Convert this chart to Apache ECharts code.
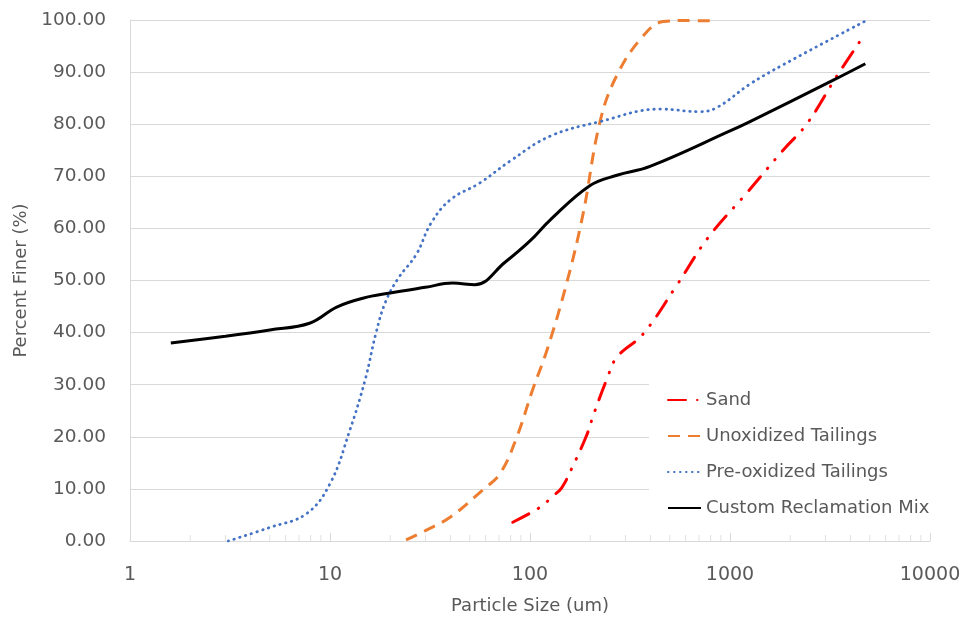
<!DOCTYPE html>
<html>
<head>
<meta charset="utf-8">
<script src="https://cdn.jsdelivr.net/npm/echarts@6/dist/echarts.min.js"></script>
<style>html,body{margin:0;padding:0;background:#fff}#c{width:964px;height:620px}</style>
</head>
<body>
<div id="c"></div>
<script>
// ---- data (particle size in um, percent finer) ----
const sandSize = [82, 103, 116, 130, 144, 162, 192, 209, 242, 272, 367, 540, 776, 1213, 1842, 2427, 3442, 4750];
const sandFiner = [3.6, 5.6, 6.9, 8.6, 10.2, 14, 20.3, 24.5, 31, 35.3, 39.7, 49, 58.2, 66.8, 75, 80.1, 89.4, 97.4];

const unoxSize = [24, 30, 40, 58, 71, 86, 103, 122, 153, 184, 224, 272, 367, 464, 600, 860];
const unoxFiner = [0.2, 2, 4.6, 9.8, 13, 20, 29, 36.8, 49.7, 62.7, 80.5, 89.4, 96.9, 99.7, 99.9, 99.8];

const preoxSize = [3.1, 5, 7.6, 10, 12.5, 15, 17, 19, 22, 27, 32, 40, 56, 80, 126, 224, 447, 708, 860, 1259, 1842, 4750];
const preoxFiner = [0, 2.6, 5.2, 11, 21, 31, 40, 46, 50.5, 55, 61, 65.5, 68.7, 73, 77.7, 80.5, 82.9, 82.4, 83.2, 87.7, 91.4, 99.8];

const mixSize = [1.6, 3, 5, 7.9, 10.8, 14.6, 20, 30, 41, 53, 75, 100, 126, 199, 272, 398, 1000, 1259, 3265, 4750];
const mixFiner = [38, 39.3, 40.5, 41.8, 44.9, 46.6, 47.6, 48.7, 49.5, 49.2, 53.5, 57.6, 61.6, 68.2, 70.2, 71.9, 78.7, 80.5, 88.4, 91.6];

const seriesNames = ['Sand', 'Unoxidized Tailings', 'Pre-oxidized Tailings', 'Custom Reclamation Mix'];
const yTicks = [0, 10, 20, 30, 40, 50, 60, 70, 80, 90, 100];
const xDecades = [1, 10, 100, 1000, 10000];
// minor tick positions on the log axis (2..9 in each decade)
const minorTicks = [];
for (let d = 0; d < xDecades.length - 1; d++) {
  for (let k = 2; k <= 9; k++) minorTicks.push(xDecades[d] * k);
}

const pairs = (xs, ys) => xs.map((x, i) => [x, ys[i]]);
const font = 'DejaVu Sans';
const grey = '#595959';

const chart = echarts.init(document.getElementById('c'), null, {renderer: 'canvas'});
chart.setOption({
  animation: false,
  backgroundColor: '#ffffff',
  grid: {left: 130, right: 34, top: 20, bottom: 79, containLabel: false},
  xAxis: {
    type: 'log', logBase: 10, min: 1, max: 10000,
    name: 'Particle Size (um)', nameLocation: 'middle', nameGap: 56,
    nameTextStyle: {fontFamily: font, fontSize: 18, color: grey},
    axisLine: {show: true, lineStyle: {color: '#d9d9d9', width: 1}},
    axisTick: {show: true, inside: true, length: 8, lineStyle: {color: '#d9d9d9'}},
    splitLine: {show: false},
    minorTick: {show: false},
    axisLabel: {fontFamily: font, fontSize: 19, color: grey, margin: 25,
      formatter: v => String(Math.round(v))}
  },
  yAxis: {
    type: 'value', min: 0, max: 100, interval: 10,
    name: 'Percent Finer (%)', nameLocation: 'middle', nameGap: 100,
    nameTextStyle: {fontFamily: font, fontSize: 18, color: grey},
    axisLine: {show: true, lineStyle: {color: '#d9d9d9'}},
    axisTick: {show: false},
    splitLine: {show: true, lineStyle: {color: '#d9d9d9', width: 1}},
    axisLabel: {fontFamily: font, fontSize: 18.5, color: grey, margin: 24,
      formatter: v => v.toFixed(2)}
  },
  legend: {
    data: seriesNames,
    orient: 'vertical',
    left: 649, top: 347,
    padding: [44, 12, 14, 18],
    backgroundColor: '#ffffff',
    itemWidth: 33, itemHeight: 14, itemGap: 18,
    itemStyle: {color: 'rgba(0,0,0,0)', borderColor: 'rgba(0,0,0,0)', borderWidth: 0},
    textStyle: {fontFamily: font, fontSize: 18, color: grey},
    z: 5
  },
  series: [
    {
      name: 'minor', type: 'scatter', silent: true, z: 1,
      data: minorTicks.map(x => [x, 0]),
      symbol: 'rect', symbolSize: [1, 6], symbolOffset: [0, -3],
      itemStyle: {color: '#d9d9d9'}
    },
    {
      name: seriesNames[0], type: 'line', smooth: 0.4, showSymbol: false, symbol: 'none',
      data: pairs(sandSize, sandFiner),
      itemStyle: {color: '#ff0000'},
      lineStyle: {color: '#ff0000', width: 3, type: [18, 11, 0.5, 11, 0.5, 11], cap: 'round'}
    },
    {
      name: seriesNames[1], type: 'line', smooth: 0.4, showSymbol: false, symbol: 'none',
      data: pairs(unoxSize, unoxFiner),
      itemStyle: {color: '#ed7d31'},
      lineStyle: {color: '#ed7d31', width: 3, type: [12, 8]}
    },
    {
      name: seriesNames[2], type: 'line', smooth: 0.4, showSymbol: false, symbol: 'none',
      data: pairs(preoxSize, preoxFiner),
      itemStyle: {color: '#4472c4'},
      lineStyle: {color: '#4472c4', width: 2.8, type: [0.5, 5.5], cap: 'round'}
    },
    {
      name: seriesNames[3], type: 'line', smooth: 0.4, showSymbol: false, symbol: 'none',
      data: pairs(mixSize, mixFiner),
      itemStyle: {color: '#000000'},
      lineStyle: {color: '#000000', width: 3}
    }
  ]
});
</script>
</body>
</html>
